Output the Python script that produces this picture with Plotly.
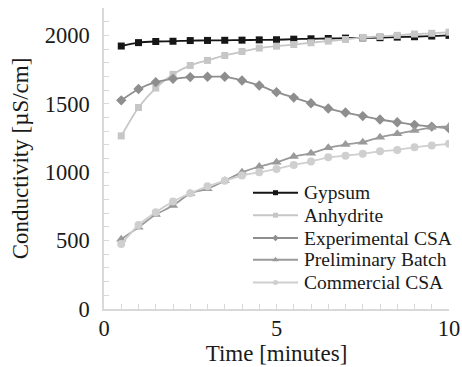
import plotly.graph_objects as go

time = [0.5, 1.0, 1.5, 2.0, 2.5, 3.0, 3.5, 4.0, 4.5, 5.0,
        5.5, 6.0, 6.5, 7.0, 7.5, 8.0, 8.5, 9.0, 9.5, 10.0]
gypsum = [1922, 1947, 1955, 1957, 1962, 1963, 1964, 1965, 1967, 1968,
          1972, 1975, 1977, 1980, 1982, 1983, 1987, 1990, 1995, 2000]
anhydrite = [1265, 1473, 1615, 1715, 1780, 1817, 1853, 1882, 1907, 1921,
             1933, 1946, 1958, 1970, 1985, 1992, 2000, 2010, 2015, 2023]
experimental = [1525, 1608, 1658, 1682, 1695, 1697, 1698, 1670, 1634, 1585,
                1545, 1504, 1465, 1436, 1410, 1385, 1365, 1346, 1333, 1320]
preliminary = [510, 598, 690, 756, 845, 878, 937, 999, 1041, 1073,
               1114, 1138, 1178, 1202, 1219, 1255, 1280, 1304, 1328, 1334]
commercial = [475, 614, 707, 785, 846, 897, 937, 975, 999, 1024,
              1053, 1078, 1109, 1121, 1134, 1153, 1163, 1182, 1195, 1207]

names = ["Gypsum", "Anhydrite", "Experimental CSA", "Preliminary Batch", "Commercial CSA"]
series = [gypsum, anhydrite, experimental, preliminary, commercial]
colors = ["#161616", "#c6c6c6", "#8e8e8e", "#9a9a9a", "#cfcfcf"]
symbols = ["square", "square", "diamond", "triangle-up", "circle"]
msizes = [7, 7, 8, 9, 8]

FONT = "Liberation Serif, Times New Roman, Times, serif"
fig = go.Figure()
for n, s, c, sym, ms in zip(names, series, colors, symbols, msizes):
    fig.add_trace(go.Scatter(x=time, y=s, name=n, mode="lines+markers",
                             line=dict(color=c, width=1.8, shape="spline", smoothing=0.6),
                             marker=dict(symbol=sym, size=ms, color=c),
                             showlegend=False))

# manual legend in pixel coordinates on a hidden overlay axis
leg_x0, leg_x1, leg_tx = 253, 298, 302
leg_y = [192.7, 215.2, 238.0, 259.8, 282.5]
for n, c, sym, ms, ly in zip(names, colors, symbols, msizes, leg_y):
    fig.add_trace(go.Scatter(x=[leg_x0, leg_x1], y=[ly, ly], mode="lines",
                             line=dict(color=c, width=2), xaxis="x2", yaxis="y2",
                             showlegend=False, hoverinfo="skip"))
    fig.add_trace(go.Scatter(x=[(leg_x0 + leg_x1) / 2], y=[ly], mode="markers",
                             marker=dict(symbol=sym, size=max(ms - 3, 5), color=c),
                             xaxis="x2", yaxis="y2", showlegend=False, hoverinfo="skip"))
    fig.add_annotation(x=leg_tx, y=ly, xref="x2", yref="y2", text=n, showarrow=False,
                       xanchor="left", yanchor="middle",
                       font=dict(family=FONT, size=19.5, color="#1a1a1a"))

axcol = "#d9d9d9"
fig.update_layout(
    width=462, height=367,
    margin=dict(l=104, r=13, t=8, b=58),
    paper_bgcolor="white", plot_bgcolor="white",
    font=dict(family=FONT, color="#1a1a1a"),
    xaxis=dict(range=[0, 10], dtick=5, tick0=0, showgrid=False, zeroline=False,
               showline=True, linecolor=axcol, linewidth=1.5,
               ticks="inside", ticklen=5, tickcolor=axcol, tickwidth=1.2,
               minor=dict(dtick=0.5, ticks="inside", ticklen=5, tickcolor=axcol, tickwidth=1.2),
               tickfont=dict(family=FONT, size=22.5, color="#1a1a1a"),
               ticklabelstandoff=-2,
               title=dict(text="Time [minutes]", font=dict(family=FONT, size=23, color="#1a1a1a"),
                          standoff=4),
               automargin=False),
    yaxis=dict(range=[0, 2200], dtick=500, tick0=0, showgrid=False, zeroline=False,
               showline=True, linecolor=axcol, linewidth=1.5,
               ticks="inside", ticklen=5, tickcolor=axcol, tickwidth=1.2,
               minor=dict(dtick=100, ticks="inside", ticklen=5, tickcolor=axcol, tickwidth=1.2),
               tickfont=dict(family=FONT, size=22.5, color="#1a1a1a"),
               ticklabelstandoff=8,
               title=dict(text="Conductivity [µS/cm]", font=dict(family=FONT, size=23, color="#1a1a1a"),
                          standoff=10),
               automargin=False),
    xaxis2=dict(overlaying="x", range=[104, 449], visible=False, fixedrange=True),
    yaxis2=dict(overlaying="y", range=[309, 8], visible=False, fixedrange=True),
)

fig.write_html("out.html")
